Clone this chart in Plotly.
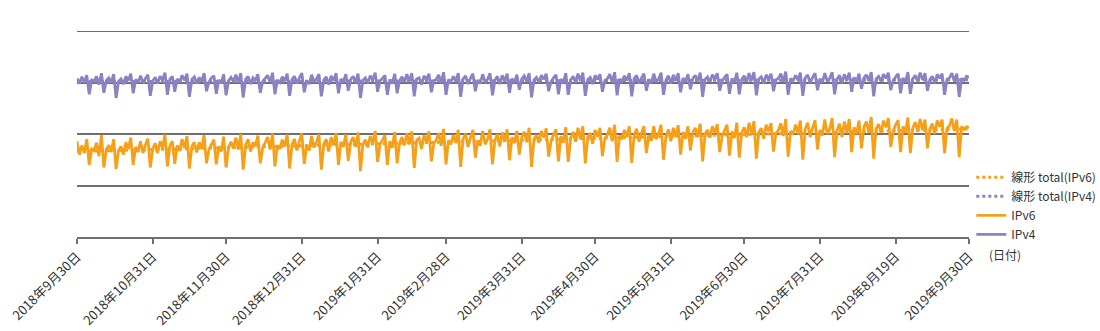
import numpy as np
import pandas as pd
import plotly.graph_objects as go

# Daily traffic, one row per week starting Sunday 2018-09-30
ipv4_weeks = [
    [308, 298, 311, 300, 314, 277, 305],
    [303, 312, 296, 318, 280, 304, 309],
    [300, 316, 270, 302, 307, 297, 312],
    [304, 317, 279, 306, 300, 313, 299],
    [308, 315, 274, 303, 310, 298, 312],
    [305, 319, 276, 306, 312, 282, 307],
    [300, 314, 304, 317, 272, 306, 311],
    [298, 310, 302, 318, 283, 301, 309],
    [313, 278, 305, 299, 316, 275, 303],
    [310, 302, 315, 300, 318, 271, 306],
    [312, 297, 309, 304, 316, 280, 302],
    [308, 314, 300, 319, 277, 305, 300],
    [311, 303, 317, 274, 306, 312, 298],
    [309, 318, 281, 304, 297, 315, 301],
    [307, 316, 273, 305, 311, 296, 313],
    [303, 318, 279, 307, 301, 316, 284],
    [306, 312, 300, 317, 270, 304, 309],
    [299, 313, 305, 319, 282, 303, 308],
    [314, 276, 306, 298, 317, 279, 304],
    [311, 301, 316, 302, 318, 273, 307],
    [309, 296, 313, 305, 317, 281, 303],
    [306, 315, 299, 320, 276, 306, 301],
    [312, 302, 318, 272, 307, 313, 297],
    [308, 317, 283, 305, 298, 316, 300],
    [306, 318, 275, 304, 312, 297, 314],
    [302, 317, 280, 308, 300, 315, 286],
    [307, 313, 301, 318, 271, 305, 310],
    [300, 314, 306, 317, 283, 302, 309],
    [315, 277, 307, 299, 318, 276, 305],
    [312, 300, 317, 303, 319, 274, 306],
    [310, 297, 314, 306, 316, 282, 304],
    [307, 316, 300, 320, 275, 307, 302],
    [313, 304, 318, 273, 308, 314, 298],
    [309, 317, 284, 306, 299, 317, 301],
    [307, 319, 276, 305, 313, 298, 315],
    [303, 318, 281, 309, 301, 316, 287],
    [308, 314, 302, 319, 272, 306, 311],
    [301, 315, 307, 318, 284, 303, 310],
    [316, 278, 308, 300, 319, 277, 306],
    [313, 301, 318, 304, 320, 275, 307],
    [311, 298, 315, 307, 317, 283, 305],
    [308, 317, 301, 321, 276, 308, 303],
    [314, 305, 319, 274, 309, 315, 299],
    [310, 318, 285, 307, 300, 318, 302],
    [308, 320, 277, 306, 314, 299, 316],
    [304, 319, 282, 310, 302, 317, 288],
    [309, 315, 303, 320, 273, 307, 312],
    [302, 316, 308, 319, 285, 304, 311],
    [317, 279, 309, 301, 320, 278, 307],
    [314, 302, 319, 305, 318, 284, 306],
    [312, 299, 316, 308, 317, 276, 306],
    [309, 318, 302, 317, 272, 308, 304],
    [312, 310],
]

ipv6_weeks = [
    [186, 160, 178, 163, 190, 140, 171],
    [168, 183, 157, 198, 135, 170, 178],
    [165, 190, 132, 168, 176, 160, 184],
    [171, 193, 140, 175, 165, 186, 163],
    [179, 191, 135, 171, 182, 163, 186],
    [174, 199, 137, 177, 186, 142, 178],
    [167, 190, 173, 196, 133, 176, 184],
    [164, 184, 171, 198, 143, 170, 181],
    [189, 141, 176, 166, 195, 135, 173],
    [185, 172, 193, 170, 200, 131, 178],
    [190, 166, 184, 176, 197, 143, 174],
    [183, 194, 170, 201, 137, 178, 171],
    [189, 176, 199, 133, 180, 190, 168],
    [186, 201, 142, 179, 168, 196, 174],
    [184, 199, 131, 181, 190, 166, 194],
    [178, 202, 140, 185, 175, 199, 148],
    [184, 194, 175, 203, 128, 180, 189],
    [174, 196, 183, 206, 146, 180, 188],
    [198, 140, 186, 173, 204, 143, 183],
    [194, 178, 202, 180, 205, 134, 188],
    [192, 171, 198, 185, 205, 147, 182],
    [188, 202, 177, 210, 141, 188, 180],
    [198, 183, 208, 136, 191, 200, 175],
    [193, 208, 154, 188, 177, 206, 180],
    [190, 209, 141, 187, 200, 176, 203],
    [185, 209, 149, 194, 182, 206, 160],
    [194, 204, 184, 212, 136, 190, 198],
    [183, 206, 193, 211, 156, 187, 198],
    [209, 147, 196, 183, 213, 146, 192],
    [204, 185, 212, 190, 215, 143, 194],
    [202, 181, 208, 195, 212, 157, 192],
    [198, 212, 186, 218, 146, 197, 190],
    [208, 194, 215, 144, 199, 210, 185],
    [202, 215, 163, 198, 187, 215, 190],
    [200, 218, 150, 196, 209, 186, 212],
    [194, 217, 160, 204, 191, 215, 168],
    [203, 212, 194, 220, 147, 200, 208],
    [193, 215, 202, 219, 165, 196, 207],
    [218, 158, 205, 192, 222, 154, 202],
    [213, 194, 222, 199, 225, 152, 204],
    [211, 191, 218, 205, 221, 166, 201],
    [207, 221, 196, 229, 156, 206, 199],
    [218, 203, 226, 150, 210, 222, 194],
    [212, 227, 170, 208, 197, 228, 200],
    [210, 231, 155, 206, 220, 194, 224],
    [203, 229, 165, 213, 200, 226, 172],
    [213, 224, 203, 233, 152, 210, 219],
    [202, 226, 213, 231, 175, 206, 218],
    [227, 165, 215, 202, 232, 163, 211],
    [223, 204, 229, 208, 228, 172, 210],
    [220, 200, 226, 214, 228, 163, 211],
    [216, 230, 206, 228, 155, 215, 209],
    [214, 213],
]

tick_dates = ["2018-09-30", "2018-10-31", "2018-11-30", "2018-12-31",
              "2019-01-31", "2019-02-28", "2019-03-31", "2019-04-30",
              "2019-05-31", "2019-06-30", "2019-07-31", "2019-08-31",
              "2019-09-30"]
tick_labels = ["2018年9月30日", "2018年10月31日", "2018年11月30日",
               "2018年12月31日", "2019年1月31日", "2019年2月28日",
               "2019年3月31日", "2019年4月30日", "2019年5月31日",
               "2019年6月30日", "2019年7月31日", "2019年8月19日",
               "2019年9月30日"]

ipv4 = [v for week in ipv4_weeks for v in week]
ipv6 = [v for week in ipv6_weeks for v in week]
dates = pd.date_range("2018-09-30", periods=len(ipv4), freq="D")

# Linear trend lines (least squares over the day index)
t = np.arange(len(dates))
trend6 = np.polyval(np.polyfit(t, ipv6, 1), t)
trend4 = np.polyval(np.polyfit(t, ipv4, 1), t)

ORANGE = "#F6A01A"
PURPLE = "#8A83C3"
GRID = "#6f6f6f"
FONT = "Noto Sans CJK JP, Noto Sans, sans-serif"

fig = go.Figure()
fig.add_trace(go.Scatter(x=dates, y=trend6, mode="lines", name="線形 total(IPv6)",
                         line=dict(color=ORANGE, width=3, dash="dot")))
fig.add_trace(go.Scatter(x=dates, y=trend4, mode="lines", name="線形 total(IPv4)",
                         line=dict(color=PURPLE, width=3, dash="dot")))
fig.add_trace(go.Scatter(x=dates, y=ipv6, mode="lines", name="IPv6",
                         line=dict(color=ORANGE, width=2.8)))
fig.add_trace(go.Scatter(x=dates, y=ipv4, mode="lines", name="IPv4",
                         line=dict(color=PURPLE, width=2.8)))

fig.update_layout(
    width=1100, height=331,
    margin=dict(l=77, r=131, t=31, b=94, autoexpand=False),
    paper_bgcolor="white", plot_bgcolor="white",
    font=dict(family=FONT, color="#333333", size=12),
    showlegend=True,
    legend=dict(
        xref="container", yref="container",
        x=0.883, y=0.508, xanchor="left", yanchor="top",
        font=dict(size=12, color="#333333"),
        bgcolor="rgba(0,0,0,0)", tracegroupgap=0, itemwidth=30,
    ),
    xaxis=dict(
        range=["2018-09-30", "2019-09-30"], automargin=False,
        tickmode="array", tickvals=tick_dates, ticktext=tick_labels,
        tickangle=-45, tickfont=dict(size=13, color="#333333"),
        showgrid=False, showline=True, linecolor=GRID, linewidth=2,
        ticks="outside", ticklen=5, tickcolor=GRID, tickwidth=1.5,
        zeroline=False,
    ),
    yaxis=dict(
        range=[0, 400], dtick=100, showticklabels=False, automargin=False,
        showgrid=True, gridcolor=GRID, gridwidth=1.8,
        zeroline=False, showline=False, ticks="",
    ),
    # top border gridline at the upper end of the value range
    shapes=[dict(type="line", xref="paper", yref="y", x0=0, x1=1, y0=400, y1=400,
                 line=dict(color=GRID, width=1.8), layer="below")],
    annotations=[dict(
        text="(日付)", xref="paper", yref="paper", x=1.02, y=-0.087,
        xanchor="left", yanchor="middle", showarrow=False,
        font=dict(size=12, color="#333333"),
    )],
)

fig.write_html("out.html")
